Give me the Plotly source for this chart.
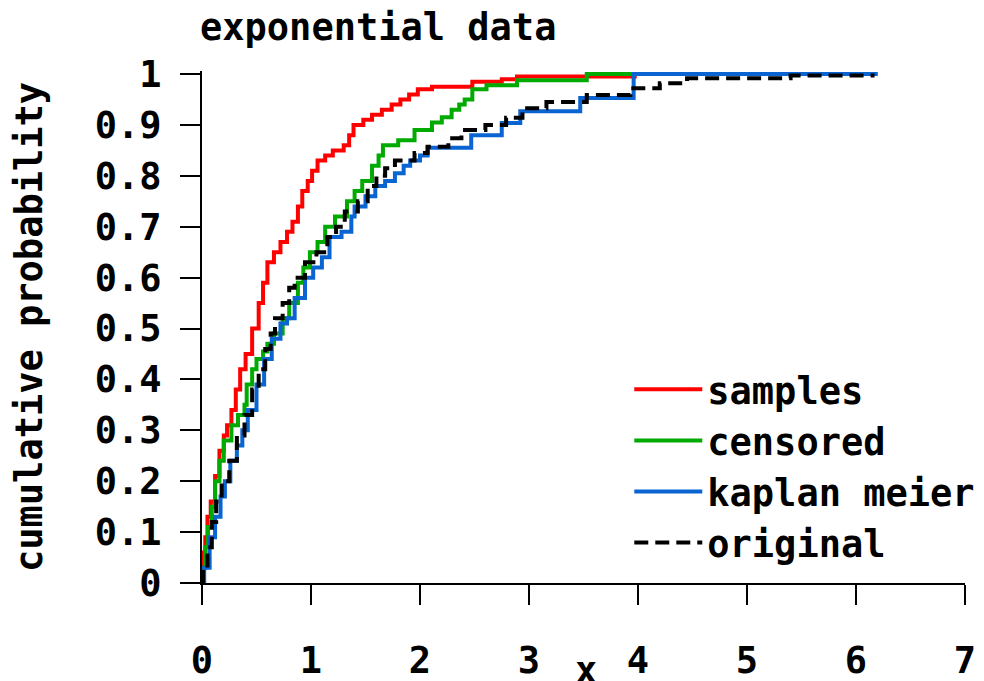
import plotly.graph_objects as go

# ---- data (step functions) ----
samples_x = [0, 0.01, 0.03, 0.05, 0.08, 0.12, 0.16, 0.20, 0.23, 0.27, 0.31, 0.35, 0.40, 0.46,
             0.52, 0.56, 0.60, 0.66, 0.72, 0.78, 0.83, 0.88, 0.92, 0.97, 1.01, 1.06, 1.13,
             1.20, 1.30, 1.35, 1.39, 1.48, 1.56, 1.65, 1.74, 1.82, 1.90, 1.98, 2.11, 2.48,
             2.75, 2.89, 3.97, 4.00]
samples_y = [0, 0.06, 0.09, 0.13, 0.16, 0.21, 0.26, 0.29, 0.31, 0.34, 0.38, 0.42, 0.45, 0.50,
             0.55, 0.59, 0.63, 0.65, 0.67, 0.69, 0.71, 0.74, 0.77, 0.79, 0.81, 0.83, 0.84,
             0.85, 0.86, 0.88, 0.90, 0.91, 0.92, 0.93, 0.94, 0.95, 0.96, 0.97, 0.975, 0.985,
             0.99, 0.995, 1.0, 1.0]

censored_x = [0, 0.005, 0.03, 0.055, 0.09, 0.12, 0.16, 0.20, 0.27, 0.33, 0.39, 0.41, 0.46,
              0.50, 0.56, 0.60, 0.66, 0.74, 0.80, 0.88, 0.93, 0.99, 1.06, 1.13, 1.22, 1.33,
              1.40, 1.47, 1.56, 1.62, 1.66, 1.80, 1.95, 2.11, 2.20, 2.29, 2.36, 2.41, 2.48,
              2.61, 2.89, 3.53, 3.96]
censored_y = [0, 0.03, 0.07, 0.11, 0.15, 0.20, 0.24, 0.28, 0.31, 0.33, 0.35, 0.39, 0.42,
              0.44, 0.455, 0.47, 0.49, 0.52, 0.55, 0.59, 0.62, 0.65, 0.67, 0.70, 0.72, 0.75,
              0.77, 0.79, 0.82, 0.84, 0.86, 0.87, 0.89, 0.905, 0.915, 0.93, 0.94, 0.95, 0.97,
              0.978, 0.988, 1.0, 1.0]

km_x = [0, 0.02, 0.07, 0.12, 0.17, 0.21, 0.26, 0.32, 0.37, 0.42, 0.50, 0.57, 0.64, 0.72,
        0.78, 0.85, 0.945, 1.02, 1.10, 1.17, 1.28, 1.37, 1.40, 1.50, 1.59, 1.68, 1.77,
        1.85, 1.91, 2.00, 2.07, 2.47, 2.53, 2.75, 2.92, 3.47, 3.96, 6.20]
km_y = [0, 0.03, 0.09, 0.13, 0.17, 0.20, 0.24, 0.27, 0.30, 0.34, 0.39, 0.44, 0.48, 0.51,
        0.52, 0.56, 0.60, 0.62, 0.64, 0.68, 0.69, 0.72, 0.74, 0.76, 0.78, 0.79, 0.805,
        0.82, 0.83, 0.84, 0.855, 0.88, 0.88, 0.904, 0.927, 0.953, 1.0, 1.0]

orig_x = [0, 0.01, 0.05, 0.09, 0.13, 0.18, 0.25, 0.32, 0.39, 0.46, 0.52, 0.58, 0.63, 0.67,
          0.74, 0.80, 0.85, 0.945, 1.05, 1.15, 1.23, 1.31, 1.43, 1.52, 1.60, 1.68, 1.77,
          1.95, 2.07, 2.26, 2.38, 2.60, 2.79, 2.94, 3.16, 3.53, 3.93, 4.20, 4.45, 5.40, 6.17]
orig_y = [0, 0.03, 0.07, 0.12, 0.16, 0.20, 0.24, 0.29, 0.33, 0.38, 0.42, 0.46, 0.49, 0.52,
          0.55, 0.58, 0.60, 0.63, 0.65, 0.68, 0.70, 0.73, 0.75, 0.78, 0.80, 0.815, 0.83,
          0.845, 0.857, 0.874, 0.89, 0.90, 0.914, 0.933, 0.945, 0.959, 0.972, 0.982, 0.992,
          0.997, 0.997]

x_ticks = [0, 1, 2, 3, 4, 5, 6, 7]
y_ticks = [0, 0.1, 0.2, 0.3, 0.4, 0.5, 0.6, 0.7, 0.8, 0.9, 1.0]
y_ticktext = ["0", "0.1", "0.2", "0.3", "0.4", "0.5", "0.6", "0.7", "0.8", "0.9", "1"]

FONT = "DejaVu Sans Mono"
FS = 37
LW = 4
TXT = dict(family=FONT, size=FS, color="black", weight="bold")

# page body has an 8px default margin, so the figure is sized/placed accordingly
W, H = 976, 673
L, R, T, B = 194, 19, 63, 98
PW, PH = W - L - R, H - T - B

fig = go.Figure()
fig.add_trace(go.Scatter(x=samples_x, y=samples_y, mode="lines", name="samples",
                         line=dict(color="#ff0000", width=LW, shape="hv")))
fig.add_trace(go.Scatter(x=censored_x, y=censored_y, mode="lines", name="censored",
                         line=dict(color="#00aa00", width=LW, shape="hv")))
fig.add_trace(go.Scatter(x=km_x, y=km_y, mode="lines", name="kaplan meier",
                         line=dict(color="#0a64d2", width=LW, shape="hv")))
fig.add_trace(go.Scatter(x=orig_x, y=orig_y, mode="lines", name="original",
                         line=dict(color="#000000", width=LW, shape="hv", dash="14px,7px")))

axis_common = dict(showline=True, linewidth=2, linecolor="black", ticks="outside",
                   ticklen=20, tickwidth=2, tickcolor="black", showgrid=False,
                   zeroline=False, automargin=False, tickfont=TXT)

fig.update_layout(
    width=W, height=H,
    margin=dict(l=L, r=R, t=T, b=B, autoexpand=False),
    paper_bgcolor="white", plot_bgcolor="white",
    font=TXT,
    title=dict(text="exponential data", x=192 / W, xref="container", xanchor="left",
               y=1 - 19 / H, yref="container", yanchor="middle", font=TXT,
               automargin=False),
    xaxis=dict(range=[0, 7], tickvals=x_ticks, ticklabelstandoff=24, **axis_common),
    yaxis=dict(range=[0, 1.006], tickvals=y_ticks, ticktext=y_ticktext,
               ticklabelstandoff=11, **axis_common),
    legend=dict(x=0.56, y=0.438, xanchor="left", yanchor="top", bgcolor="rgba(0,0,0,0)",
                borderwidth=0, itemwidth=68, font=TXT),
    showlegend=True,
    annotations=[
        dict(text="x", xref="paper", yref="paper", x=(578 - L) / PW, y=-(662 - (H - B)) / PH,
             xanchor="center", yanchor="middle", showarrow=False, font=TXT),
        dict(text="cumulative probability", xref="paper", yref="paper",
             x=(21 - L) / PW, y=0.5, xanchor="center", yanchor="middle",
             textangle=-90, showarrow=False, font=TXT),
    ],
)

fig.write_html("out.html")
